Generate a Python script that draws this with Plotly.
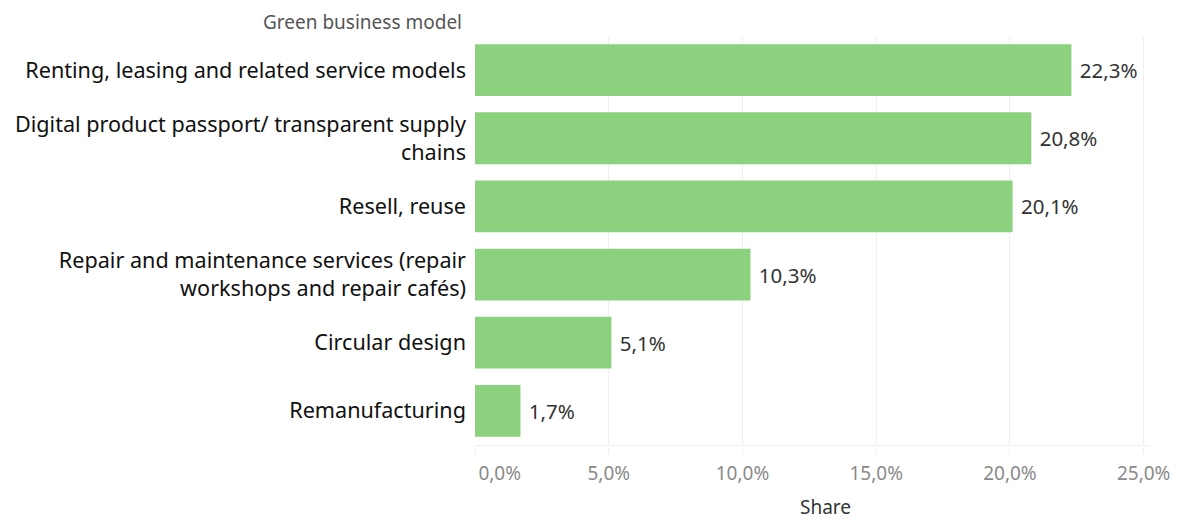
import plotly.graph_objects as go

# Share of green business models
categories = [
    "Renting, leasing and related service models",
    "Digital product passport/ transparent supply<br>chains",
    "Resell, reuse",
    "Repair and maintenance services (repair<br>workshops and repair cafés)",
    "Circular design",
    "Remanufacturing",
]
shares = [0.223, 0.208, 0.201, 0.103, 0.051, 0.017]
tick_values = [0, 0.05, 0.10, 0.15, 0.20, 0.25]

FONT = "Noto Sans"
BAR_COLOR = "#8CD17D"
GRID = "#efefef"


def pct_label(v):
    return f"{v * 100:.1f}%".replace(".", ",")


# the label at the origin sits inside the plot, to the right of its tick
tick_text = [pct_label(v) for v in tick_values]
tick_text[0] = "\u00a0" * 10 + tick_text[0]

fig = go.Figure()
fig.add_trace(go.Bar(
    x=shares,
    y=categories,
    orientation="h",
    marker=dict(color=BAR_COLOR, line=dict(width=0)),
    width=0.76,
    text=shares,
    texttemplate="\u00a0%{x:.1%}",
    textposition="outside",
    textfont=dict(family=FONT, size=20.5, color="#333333"),
    cliponaxis=False,
    xaxis="x",
    hoverinfo="skip",
))
# invisible trace that carries the lower tick-label axis
fig.add_trace(go.Bar(x=[None], y=[categories[0]], orientation="h",
                     xaxis="x2", showlegend=False, hoverinfo="skip"))

fig.update_layout(
    width=1183,
    height=520,
    margin=dict(l=475, r=34, t=36, b=73, autoexpand=False),
    paper_bgcolor="white",
    plot_bgcolor="white",
    separators=",.",
    showlegend=False,
    bargap=0.24,
    font=dict(family=FONT, color="#333333"),
    yaxis=dict(
        categoryorder="array",
        categoryarray=categories[::-1],
        tickfont=dict(family=FONT, size=21.6, color="#111111"),
        ticks="",
        ticklabelstandoff=8,
        showgrid=False,
        showline=False,
        automargin=False,
        domain=[0.005, 1],
    ),
    xaxis=dict(
        range=[0, 0.252],
        tickvals=tick_values,
        showticklabels=False,
        showgrid=True,
        gridcolor=GRID,
        gridwidth=1,
        zeroline=False,
        showline=True,
        linecolor=GRID,
        linewidth=1,
        ticks="",
        anchor="y",
        automargin=False,
    ),
    xaxis2=dict(
        range=[0, 0.252],
        matches="x",
        overlaying="x",
        anchor="free",
        position=0,
        side="bottom",
        tickmode="array",
        tickvals=tick_values,
        ticktext=tick_text,
        ticks="outside",
        ticklen=6,
        tickcolor=GRID,
        tickwidth=1,
        ticklabelstandoff=3,
        showgrid=False,
        showline=False,
        zeroline=False,
        automargin=False,
        tickfont=dict(family=FONT, size=19, color="#8a8a8a"),
    ),
    annotations=[
        dict(
            text="Green business model",
            xref="paper", yref="paper",
            x=0, y=1,
            xanchor="right", yanchor="bottom",
            xshift=-11, yshift=-1,
            showarrow=False,
            font=dict(family=FONT, size=19, color="#555555"),
        ),
        dict(
            text="Share",
            xref="paper", yref="paper",
            x=0.52, y=0,
            xanchor="center", yanchor="middle",
            yshift=-60,
            borderpad=0,
            showarrow=False,
            font=dict(family=FONT, size=19, color="#333333"),
        ),
    ],
)

fig.write_html("out.html")
